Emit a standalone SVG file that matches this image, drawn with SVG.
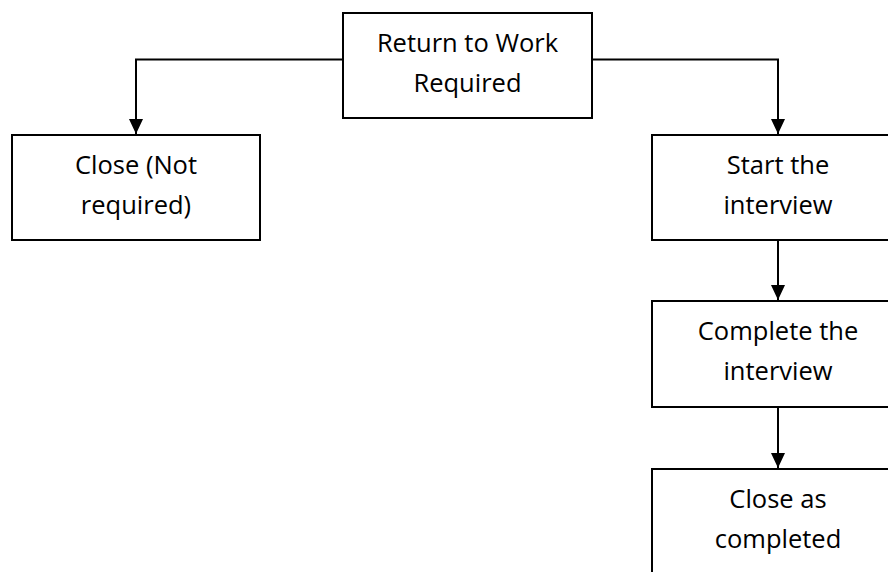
<svg xmlns="http://www.w3.org/2000/svg" width="888" height="572" viewBox="0 0 888 572">
  <style>
    .box { fill: #ffffff; stroke: #000000; stroke-width: 2; }
    .lbl { font-family: "Open Sans", "Liberation Sans", sans-serif; font-size: 25.5px; fill: #000000; text-anchor: middle; }
    .conn { fill: none; stroke: #000000; stroke-width: 2; }
  </style>
  <defs>
    <marker id="arrow" markerUnits="userSpaceOnUse" markerWidth="16" markerHeight="16" viewBox="0 0 16 16" refX="15" refY="8" orient="auto">
      <path d="M0,1 L15,8 L0,15 Z" fill="#000000"/>
    </marker>
  </defs>
  <rect width="888" height="572" fill="#ffffff"/>
  <g id="connectors">
    <path class="conn" d="M343,59.5 H136 V134" marker-end="url(#arrow)"/>
    <path class="conn" d="M592,59.5 H778 V134" marker-end="url(#arrow)"/>
    <path class="conn" d="M778,240 V300" marker-end="url(#arrow)"/>
    <path class="conn" d="M778,407 V468" marker-end="url(#arrow)"/>
  </g>
  <g id="node-return">
    <rect class="box" x="343" y="13" width="249" height="105"/>
    <text class="lbl" x="467.5" y="52">Return to Work</text>
    <text class="lbl" x="467.5" y="92">Required</text>
  </g>
  <g id="node-close-not-required">
    <rect class="box" x="12" y="135" width="248" height="105"/>
    <text class="lbl" x="136" y="174">Close (Not</text>
    <text class="lbl" x="136" y="214">required)</text>
  </g>
  <g id="node-start">
    <rect class="box" x="652" y="135" width="252" height="105"/>
    <text class="lbl" x="778" y="174">Start the</text>
    <text class="lbl" x="778" y="214">interview</text>
  </g>
  <g id="node-complete">
    <rect class="box" x="652" y="301" width="252" height="106"/>
    <text class="lbl" x="778" y="340">Complete the</text>
    <text class="lbl" x="778" y="380">interview</text>
  </g>
  <g id="node-close-completed">
    <rect class="box" x="652" y="469" width="252" height="120"/>
    <text class="lbl" x="778" y="508">Close as</text>
    <text class="lbl" x="778" y="548">completed</text>
  </g>
</svg>
